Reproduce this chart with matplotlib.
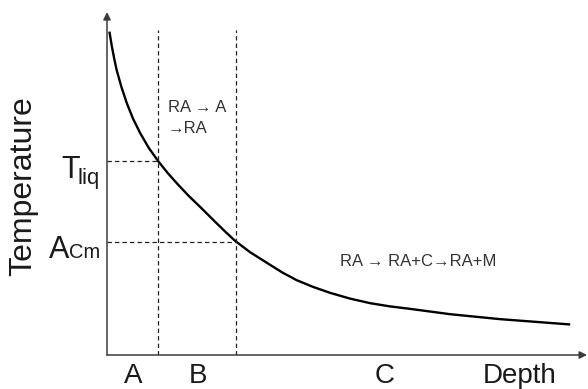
import numpy as np
import matplotlib.pyplot as plt
import matplotlib.transforms as mtransforms

plt.rcParams['font.family'] = ['Liberation Sans', 'DejaVu Sans']

# cooling curve: temperature against depth (arbitrary units)
depth = [0.5, 1.0, 1.5, 2.0, 3.0, 4.1, 5.4, 6.9, 8.7, 10.7, 12.6, 14.5,
         17.0, 19.3, 22.8, 24.7, 26.6, 29.7, 33.9, 36.5, 39.4, 42.8, 46.4,
         50.5, 54.7, 58.8, 63.0, 71.3, 81.7, 96.3]
temp = [91.1, 87.0, 83.5, 80.3, 75.5, 71.0, 66.6, 62.5, 58.3, 54.5, 51.3,
        48.4, 44.8, 41.8, 37.1, 34.6, 32.2, 29.0, 25.4, 23.2, 21.1, 19.2,
        17.5, 15.9, 14.6, 13.7, 13.0, 11.5, 10.1, 8.6]

# zone boundaries and characteristic temperatures
zone_edges = [10.6, 26.8]
zone_top = 91.5
t_liq = 54.6
a_cm = 31.8

zone_pos = [5.4, 18.9, 57.8, 85.7]
zone_labels = ['A', 'B', 'C', 'Depth']

fig = plt.figure(figsize=(5.88, 3.89), dpi=100)
ax = fig.add_axes([107 / 588, 34 / 389, 481 / 588, 355 / 389])
ax.set_xlim(0, 100)
ax.set_ylim(0, 100)
for s in ax.spines.values():
    s.set_visible(False)

axis_col = '#3a3a3a'
arrow = dict(arrowstyle='-|>', color=axis_col, lw=1.1, mutation_scale=11,
             shrinkA=0, shrinkB=0)
ax.annotate('', xy=(0, 0.966), xytext=(0, 0), xycoords='axes fraction',
            arrowprops=arrow)
ax.annotate('', xy=(0.998, 0), xytext=(0, 0), xycoords='axes fraction',
            arrowprops=arrow)

ax.plot(depth, temp, color='black', lw=1.7, solid_capstyle='butt',
        solid_joinstyle='round')

dash = dict(color='#222222', lw=0.9, linestyle=(0, (3.5, 2.5)))
for x in zone_edges:
    ax.plot([x, x], [0, zone_top], **dash)
ax.plot([0, zone_edges[0]], [t_liq, t_liq], **dash)
ax.plot([0, zone_edges[1]], [a_cm, a_cm], **dash)

ax.set_xticks(zone_pos)
ax.set_xticklabels(zone_labels, fontsize=20, color='#1a1a1a')
ax.tick_params(axis='x', length=0, pad=6)
ax.set_yticks([])

txt = '#1a1a1a'
ax.set_ylabel('Temperature', fontsize=23, color=txt)
ax.yaxis.set_label_coords(-0.142, 0.476)

# T_liq and A_Cm labels on the temperature axis
ytr = ax.get_yaxis_transform()
def off(dx, dy):
    return mtransforms.offset_copy(ytr, fig=fig, x=dx, y=dy, units='dots')

ax.text(0, t_liq, 'T', fontsize=22, color=txt, ha='right', va='baseline',
        transform=off(-27, -17))
ax.text(0, t_liq, 'liq', fontsize=16, color=txt, ha='right', va='baseline',
        transform=off(-7, -23))
ax.text(0, a_cm, 'A', fontsize=22, color=txt, ha='right', va='baseline',
        transform=off(-38, -16))
ax.text(0, a_cm, 'Cm', fontsize=14.5, color=txt, ha='right', va='baseline',
        transform=off(-7, -16))

# reactions in zones B and C
rx = dict(fontsize=12, color='#333333', ha='left', va='center')
ax.text(12.6, 69.6, 'RA \u2192 A', **rx)
ax.text(12.6, 63.7, '\u2192RA', **rx)
ax.text(48.4, 26.2, 'RA \u2192 RA+C\u2192RA+M', **rx)

fig.savefig('out.png', dpi=100)
